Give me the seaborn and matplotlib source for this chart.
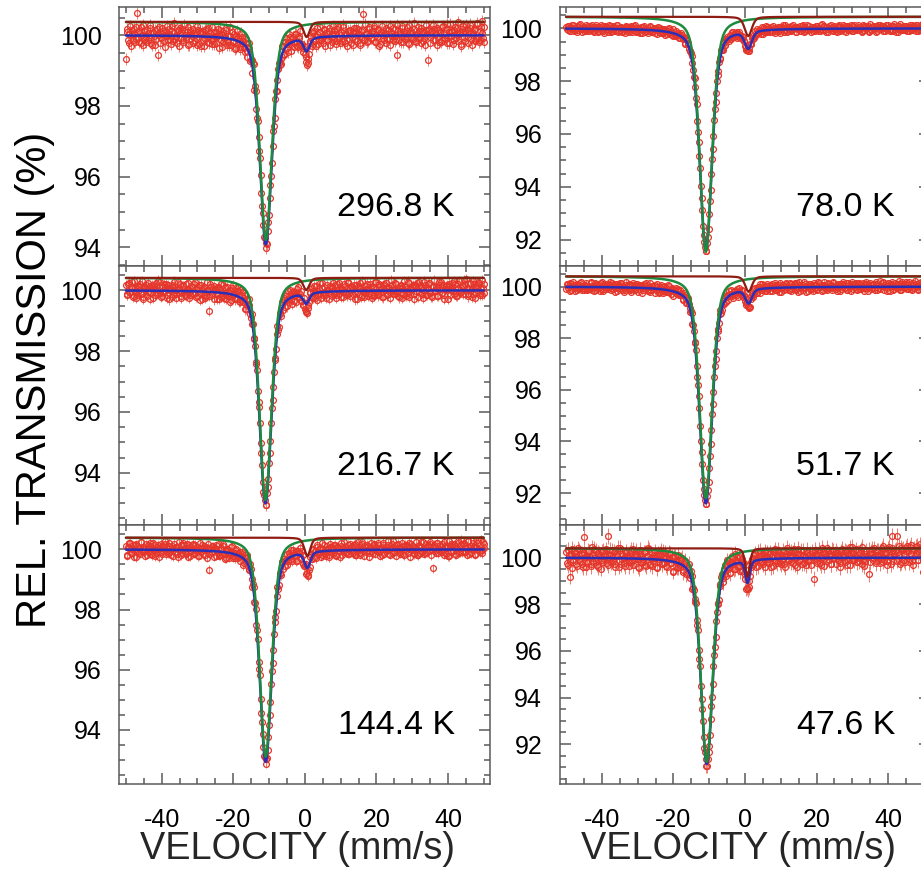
import numpy as np
import matplotlib
matplotlib.use("Agg")
import matplotlib.pyplot as plt
from matplotlib.ticker import MultipleLocator, FormatStrFormatter
import seaborn as sns

# ---------------------------------------------------------------------------
# Panels, row by row: (296.8 K | 78.0 K), (216.7 K | 51.7 K), (144.4 K | 47.6 K)
temperatures = ["296.8 K", "78.0 K", "216.7 K", "51.7 K", "144.4 K", "47.6 K"]

# Fitted sub-spectra (pseudo-Voigt lines): main line and weak second line
line1_center = [-10.90, -10.95, -11.00, -10.95, -10.95, -10.70]   # mm/s
line2_center = [0.50, 0.90, 0.40, 1.00, 0.70, 0.70]               # mm/s
line1_hwhm = [2.00, 2.05, 2.00, 2.05, 2.00, 2.00]
line2_hwhm = [1.00, 1.20, 1.00, 1.10, 1.00, 0.75]
total_depth1 = [5.92, 8.40, 7.00, 8.40, 7.06, 8.85]               # % in total fit
total_depth2 = [0.38, 0.67, 0.35, 0.55, 0.53, 0.97]
comp_base = [100.38, 100.44, 100.41, 100.40, 100.39, 100.40]      # shifted sub-spectra
comp_depth1 = [6.17, 8.90, 7.31, 8.60, 7.28, 9.16]
comp_depth2 = [0.43, 0.73, 0.40, 0.60, 0.61, 1.22]
point_error = [0.17, 0.08, 0.17, 0.10, 0.15, 0.33]                # % error bars
y_limits = [(93.47, 100.80), (91.00, 100.81), (92.28, 100.80),
            (90.76, 100.80), (92.20, 100.81), (90.29, 101.40)]

# Measured points, two velocity sweeps per spectrum: deviation from the
# total fit, integers in units of resid_unit (%)
resid_unit = [0.014, 0.014, 0.014, 0.014, 0.014, 0.010]
resid_2968_up = [
    -48, 8, -15, 20, 3, -10, 14, -6, 46, -12, 5, 17, -20, 9, -3, 11,
    -8, 22, -14, 6, 0, -18, 13, -40, 7, -5, 16, -11, 2, 19, -9, 4,
    -16, 10, 25, -7, -2, 12, -21, 8, 15, -13, 3, -6, 18, -17, 9, 1,
    14, -10, -4, 21, -15, 6, 11, -8, -19, 16, 2, -12, 7, 20, -5, -14,
    10, 3, -22, 15, 8, -9, -1, 17, -13, 5, 24, -11, -6, 12, -18, 4,
    9, -15, 19, 0, -7, 13, -20, 6, 11, -4, -16, 22, 3, -10, 8, -2,
    4, -5, 3, 6, -9, 5, -3, 6, -4, 8, -10, 7, 0, 12, -9, -3,
    10, -14, 18, -6, 4, 13, -17, 9, -2, 15, -11, 6, 20, -8, -15, 3,
    -12, -28, -20, 5, 11, -7, 16, -3, 8, -13, 21, -5, 2, 14, -18, 9,
    -6, 17, 0, -11, 12, 5, -16, 19, -4, 8, -9, 23, -14, 3, 10, -7,
    13, -2, -19, 7, 16, -10, 4, -15, 11, 45, -8, 6, -12, 18, 1, -5,
    9, 20, -13, -3, 14, -17, 8, 2, -9, 16, -6, 11, -20, 5, 15, -1,
    -11, -40, 12, 7, -14, 19, 3, -8, 10, -16, 22, -4, 6, 13, -12, 0,
    17, -7, -15, 9, 4, -19, 11, -50, 14, -3, 8, 21, -10, 2, 16, -13,
    5, -9, 19, -6, 12, -15, 7, 24, -2, -18, 10, 3, 15, -11, 6, -21,
    18, -4, 8, 13, -16, 22, -7, 1, 11, -12, 25, -5, -9, 17, 4, -14,
]
resid_2968_down = [
    14, -9, 3, -21, 11, 6, -13, 18, -4, 9, -16, 2, 21, -7, -12, 5,
    -3, 15, -19, 8, 12, -6, 1, 17, -14, 4, 10, -22, 7, -1, 13, -8,
    19, -11, 6, 0, -15, 11, 16, -5, -9, 22, -3, 8, -18, 12, 4, -13,
    7, 2, -17, 13, 9, -20, 5, -2, 14, -10, 18, 1, -7, -15, 10, 3,
    -12, 16, 6, -4, -19, 12, 2, 20, -8, -13, 7, 15, -3, 9, -16, 21,
    0, -9, 13, 5, -14, 8, -5, 17, -11, 3, 14, -18, 10, -6, 2, 11,
    -5, 6, -4, 3, -7, 5, 6, -4, 3, -6, 8, -9, 10, 4, -12, 15,
    -8, 12, 3, -16, 19, -2, 7, -11, 14, 0, -13, 9, -6, -2, -4, -10,
    -22, -25, -14, 6, -9, 13, 4, -17, 20, -5, 11, -1, -12, 16, 8, -7,
    12, -18, 5, 21, -3, -10, 15, 7, -14, 2, 18, -9, 4, -20, 11, 6,
    -15, 8, 17, -6, 1, 13, -19, 10, -2, -8, 24, 3, -11, 14, -5, 9,
    16, -12, 2, 11, -21, 7, 19, -4, 6, -15, 12, -7, 20, 0, -9, 13,
    -6, 22, -10, 4, 15, -13, 8, -1, 18, -17, 5, 10, -8, 26, -14, 3,
    9, -3, 16, -12, -5, 21, 1, 12, -16, 7, -9, 14, 3, -19, 10, 6,
    -13, 18, 4, -8, 23, -2, -15, 11, 6, -10, 17, -5, 28, 2, -18, 12,
    7, -11, 20, -3, 9, 15, -20, 4, 13, -7, 22, -14, 8, 30, -6, 16,
]
resid_780_up = [
    5, -3, 8, -6, 2, 10, -4, 1, -8, 6, 12, -2, 3, -7, 9, 0,
    -5, 7, -1, 4, -9, 11, 2, -6, 6, -3, 8, -10, 3, 5, -2, 9,
    -7, 1, 6, -4, 10, -8, 3, 7, -5, 2, -11, 6, 4, -1, 8, -6,
    3, 12, -3, -7, 5, 1, -9, 8, 2, -4, 6, -2, 10, -6, -1, 4,
    7, -8, 2, 9, -3, -5, 6, 1, -7, 11, -4, 3, -9, 5, 8, -2,
    1, -6, 9, -1, 4, -10, 7, 3, -5, 6, 0, -8, 5, 10, -3, 2,
    -3, 4, -2, 3, -5, 2, 4, -3, 5, -4, 6, -2, 3, 7, -5, 1,
    8, -4, 6, 2, -7, 5, -1, 9, -3, 4, 7, -6, 2, -8, 5, 3,
    -4, -6, 3, 6, -2, 8, -5, 1, 10, -3, 4, -7, 6, 0, -4, 9,
    2, -6, 7, -1, 5, -9, 3, 8, -4, 1, 6, -7, 11, -2, 4, -5,
    9, -3, 0, 6, -8, 4, 2, -5, 7, 10, -6, 1, -3, 8, -1, 5,
    -7, 3, 9, -4, 2, -6, 12, -2, 5, -9, 4, 7, -1, 3, -5, 8,
    0, -8, 6, 4, -3, 9, -6, 2, 7, -4, 1, 10, -7, 5, -2, 3,
    11, -5, 2, -9, 6, 3, -1, 8, -6, 4, -3, 7, 1, -8, 9, -2,
    4, 6, -7, 2, 10, -4, 5, -1, -6, 8, 3, -9, 6, 0, 12, -3,
    -5, 7, 2, -8, 4, 9, -3, 1, 6, -6, 10, -2, 3, 8, -4, 5,
]
resid_780_down = [
    -2, 7, -5, 3, 9, -7, 0, 6, -4, 10, -1, -8, 5, 2, -6, 8,
    4, -3, 9, -7, 1, 6, -9, 5, 11, -2, -5, 7, 0, -8, 10, 3,
    -6, 8, 2, -3, 12, -5, 7, -9, 4, 1, 9, -4, -7, 6, 3, -1,
    10, -6, 5, 2, -8, 7, -2, 11, -5, 3, -9, 8, 1, -4, 6, -7,
    2, 9, -4, -6, 7, 3, -10, 5, 8, -3, 1, -7, 12, -1, -5, 6,
    -8, 4, 6, -2, -9, 10, 3, -6, 2, 7, -4, 9, -1, -7, 5, 8,
    3, -4, 2, -3, 4, -5, 3, 2, -4, 5, -3, 6, -2, 4, 7, -6,
    5, -8, 9, -1, 3, -6, 11, -3, 6, -9, 2, 8, -5, 4, -2, -6,
    -9, -5, -7, 2, 7, -3, 10, -6, 1, 5, -2, 9, -8, 4, 12, -4,
    6, 1, -7, 10, -3, 4, -5, 8, -9, 3, 11, -2, 5, -6, 0, 7,
    -4, 10, 3, -8, 6, -1, 9, -5, 2, -7, 4, 12, -3, 1, -9, 6,
    3, -5, 8, 1, -6, 11, -4, 7, -2, 5, -8, 2, 9, -3, 6, -1,
    -7, 4, 10, -5, 3, -2, 8, -9, 6, 1, -4, 7, -6, 11, 2, -3,
    5, -1, -6, 9, -3, 7, 2, -8, 12, -5, 3, -2, 8, -7, 4, 10,
    -2, 8, 3, -6, 1, 9, -7, 6, -3, 11, -5, 2, -9, 7, -1, 4,
    8, -4, 6, 1, -7, 3, 10, -5, 2, 9, -6, 5, -3, 12, -8, 6,
]
resid_2167_up = [
    12, -9, 18, -3, 6, -15, 22, 0, -11, 8, 15, -6, -19, 10, 4, -13,
    19, -2, 7, -16, 11, 3, -8, 24, -5, -14, 9, 16, -1, -10, 13, -20,
    5, 14, -7, 2, -17, 20, 8, -12, -3, 11, -9, 17, 6, -15, 0, 10,
    -6, 21, -13, 4, 15, -4, -18, 9, 12, -10, 3, -45, 18, -7, 7, 14,
    -2, -16, 10, 6, -9, 19, -12, 1, 16, -5, 8, -14, 23, 2, -8, 11,
    13, -11, -4, 17, 5, -19, 9, -1, 12, -7, 20, -13, 3, 8, -6, 15,
    -3, 6, -5, 4, -10, 3, 5, -6, 7, -4, 9, -8, 14, -11, 2, 18,
    -9, 7, 12, -15, 3, 19, -6, 10, -12, 1, 16, -4, 6, -10, -14, 8,
    -18, -22, -9, 14, -2, 7, 17, -11, 4, -6, 21, -13, 9, 0, -8, 15,
    3, -17, 11, 8, -5, 16, -9, 2, 19, -14, 6, -1, 13, -7, 22, -4,
    -12, 10, 5, -20, 14, -3, 7, 18, -10, 1, -15, 12, 4, -6, 16, -9,
    8, -13, 20, -2, -7, 11, 3, -16, 15, 6, -11, 9, -4, 24, -8, 2,
    17, -5, -12, 7, 13, -18, 1, 10, -6, 21, -14, 4, 8, -9, 12, -1,
    -15, 19, 6, -8, 2, 14, -10, 5, 18, -3, -16, 11, 0, 9, -12, 20,
    4, -7, 13, -19, 10, 3, 16, -11, 7, -2, 22, -6, -13, 15, 1, -4,
    11, 25, -8, 6, -14, 18, 2, -9, 14, -17, 9, 20, -5, 3, -11, 16,
]
resid_2167_down = [
    -10, 16, -4, 9, 20, -13, 5, -18, 11, 2, -7, 23, -15, 6, 14, -2,
    8, -19, 13, 4, -10, 17, -6, 1, 21, -12, -3, 10, 15, -17, 7, 3,
    -14, 9, 22, -8, 2, -5, 16, -16, 12, 6, -11, -1, 19, -9, 13, -4,
    18, -3, -12, 10, -20, 15, 4, -7, -14, 23, 1, -9, 11, -2, -17, 8,
    5, 12, -15, 20, -1, -8, 14, -13, 7, 3, -18, 16, 0, -10, 19, -6,
    -11, 17, 6, -7, 13, -16, 2, 21, -5, -12, 9, 4, -19, 15, -3, 10,
    4, -6, 5, -4, 7, -5, -3, 4, -6, 5, -8, 10, -7, 12, -10, 6,
    14, -12, 4, 19, -9, 11, -16, 2, 8, -14, 20, -3, 13, -6, -11, -15,
    -20, -12, -6, 10, 17, -10, 3, 15, -18, 9, -2, 22, -8, 12, -15, 5,
    -4, 14, -11, 21, 1, -16, 18, -7, 9, 4, -13, 16, -1, -10, 20, 6,
    11, -8, 15, -3, -19, 12, 7, -14, 23, 0, -6, 17, -12, 5, 9, -17,
    -9, 20, 3, -11, 16, -4, -15, 13, 1, 19, -8, 6, -18, 14, 2, -5,
    15, -2, -16, 11, 6, -9, 22, -13, 4, 17, -7, 1, 13, -19, 10, 18,
    -3, 12, 8, -17, 21, 2, -10, 16, -6, -14, 9, 24, -2, 7, -12, 14,
    19, -6, -11, 4, 13, -20, 10, 1, 18, -8, 15, -13, 6, 22, -4, 11,
    -8, 16, 27, -9, 3, 14, -16, 21, 8, -5, 12, 18, -11, 25, 5, -7,
]
resid_517_up = [
    -6, 9, 2, -11, 7, 13, -4, 1, -9, 5, 10, -7, 3, -2, 12, -8,
    4, -5, 14, 0, -10, 6, 8, -3, -12, 11, 2, -6, 9, -1, 5, 15,
    -9, 3, 7, -14, 10, -2, 4, 12, -6, 1, -8, 16, -4, 6, -11, 8,
    2, -7, 11, 5, -3, 9, -13, 0, 7, 14, -5, 3, -10, 8, -1, 10,
    -4, 12, -8, 6, 1, -11, 9, 4, -6, 13, -2, -9, 7, 2, 11, -5,
    8, -1, 5, -12, 10, 3, -7, 15, -3, 6, -10, 1, 9, -6, 4, 12,
    -4, 5, -3, 4, -6, 3, 5, -2, 6, -5, 4, -7, 8, -3, 10, -6,
    3, 9, -8, 5, 13, -4, 1, -11, 7, 2, -6, 12, -2, 8, -9, 4,
    -10, 2, -12, -14, 7, -5, 11, 3, -8, 6, 14, -4, 1, 9, -7, 5,
    -3, 10, 6, -9, 2, 13, -6, 8, -1, -11, 7, 4, -5, 12, 0, -8,
    9, -4, 3, 11, -7, 1, 15, -10, 6, -2, 8, -13, 4, 10, -5, 2,
    -12, 7, 5, -6, 12, -1, 3, -9, 14, 0, -7, 9, -3, 6, 11, -4,
    6, -10, 1, 8, -5, 13, -2, 4, -8, 10, 3, -12, 7, -1, 9, -6,
    2, 11, -7, 5, -3, 9, 14, -11, 0, 6, -4, 8, -9, 12, -2, 4,
    -6, 3, 10, -1, 7, -13, 5, 2, 12, -8, 1, 6, -4, 15, -10, 7,
    4, -2, 9, -7, 13, 0, -5, 11, -3, 8, 2, -9, 6, 14, -1, 10,
]
resid_517_down = [
    7, -4, 11, -8, 3, 0, -12, 9, 5, -6, 13, -2, -9, 6, 2, -5,
    -1, 10, -7, 4, 12, -9, 2, 8, -4, 14, -11, 5, 0, -6, 9, 3,
    11, -5, -2, 8, -10, 6, 13, -3, 4, -12, 7, 1, 10, -8, -4, 12,
    -7, 4, 9, -13, 5, 2, -6, 11, -1, 8, -9, 15, -5, 3, 7, -11,
    6, 1, -10, 12, -4, 8, -2, -7, 14, -5, 3, 9, -12, 6, -1, 10,
    -3, 13, 4, -8, 7, -11, 5, 2, -6, 10, 1, -9, 12, -4, 8, -2,
    3, -5, 4, -3, 5, -4, 3, -2, -5, 4, -6, 7, -4, 9, -7, 5,
    -6, 11, 2, -9, 4, 13, -7, 6, -2, 10, -12, 3, 8, -5, -3, -8,
    -12, -8, -10, 4, 9, -3, 12, -6, 2, 7, -10, 13, -1, 5, -8, 11,
    4, -7, 12, 0, -5, 9, 3, -11, 14, -2, 6, -8, 10, 1, -6, 13,
    -9, 5, 8, -4, 11, -12, 6, 2, -7, 15, -3, 4, -10, 9, 3, -5,
    10, -2, -8, 13, 1, 5, -11, 7, 3, -6, 12, -4, 2, -9, 14, 0,
    -5, 9, 4, -12, 8, 2, -3, 11, -9, 6, -1, 13, -7, 4, 10, -8,
    8, -6, 1, 10, -11, 7, -4, 3, 12, -7, 5, -2, 9, -10, 6, 15,
    1, 12, -9, 6, -2, 11, -13, 8, 4, -5, 10, -3, 7, 0, -8, 12,
    -4, 7, 13, -6, 2, 9, -10, 5, 16, -2, -7, 11, 3, -5, 12, 6,
]
resid_1444_up = [
    9, -14, 3, 16, -7, 11, -2, -18, 8, 5, -10, 19, 1, -6, 13, -12,
    4, 17, -9, 0, 12, -15, 7, 2, -5, 14, -11, 6, 20, -3, -8, 10,
    -13, 5, 15, -4, 8, -17, 1, 11, -7, 18, -2, -10, 6, 13, -14, 3,
    16, -6, 9, -1, -12, 7, 14, -9, 2, 10, -16, -45, 5, -3, 12, 8,
    -11, 1, 18, -8, 4, 13, -5, -14, 9, 6, -2, 15, -10, 3, 11, -7,
    7, -12, 2, 14, -9, 5, 17, -4, -1, 10, -15, 8, 3, -6, 12, 0,
    -5, 4, -3, 6, -8, -3, 5, -4, 6, -5, 7, -9, 13, -6, 4, 16,
    -10, 8, 1, -13, 11, 6, -7, 15, -2, 9, -14, 4, 18, -5, 7, -11,
    3, -12, -22, -8, 10, 16, -9, 2, 12, -6, 5, -13, 19, 0, -8, 11,
    6, -15, 9, 4, -3, 14, -10, 7, -1, 17, -12, 2, 8, -5, 13, -9,
    1, 10, -7, 15, -13, 5, 3, -11, 18, -2, 9, -6, 12, -16, 4, 7,
    -8, 13, 0, -4, 11, -14, 6, 16, -9, 3, -1, 10, -12, 5, 20, -6,
    8, -3, 14, -10, 2, 7, -13, 11, 4, -7, 16, -2, 9, -11, 6, 1,
    -14, 12, 5, -6, 17, -9, 3, 10, -4, 13, 0, -45, 7, -8, 15, -2,
    10, -5, 2, 18, -11, 6, -16, 9, 14, -3, 7, -12, 4, 21, -7, 11,
    -4, 15, 8, -13, 19, 3, -9, 22, 6, -10, 16, 1, -6, 24, -2, 12,
]
resid_1444_down = [
    -12, 6, 15, -8, 2, -17, 10, 13, -4, -9, 18, -2, 7, -14, 4, 11,
    -6, 9, -13, 16, 3, -7, 12, -18, 5, 8, -3, 14, -10, 1, 17, -5,
    10, -15, 4, 7, -9, 19, -1, -12, 13, 2, -6, 15, -16, 8, -2, 12,
    -8, 13, 1, -14, 18, -4, 6, 10, -11, 3, 16, -7, -2, 11, -13, 5,
    14, -3, -10, 9, -6, 20, -15, 4, 7, -12, 2, 17, -5, -9, 13, 1,
    -4, 11, 8, -16, 5, -1, 12, -9, 15, -6, 3, -11, 10, 6, -14, 18,
    -6, 5, -4, 6, -5, 4, -3, 6, -7, 5, -4, 8, -6, 10, -9, 12,
    6, -10, 13, -5, 2, 16, -12, 8, 1, -15, 10, 5, -8, 14, -11, -4,
    -16, -18, -12, 9, -3, 12, 6, -14, 17, -1, 8, -9, 4, 15, -12, 3,
    -10, 16, 2, -7, 13, -13, 9, 5, -16, 11, -2, 19, -6, 3, -9, 14,
    7, -4, 12, -11, 1, 18, -8, 3, 14, -14, 6, -1, 10, -7, 17, -3,
    12, -9, 5, 15, -6, 2, -13, 11, 7, -4, 20, -10, 1, 13, -8, 4,
    -15, 10, 3, -5, 16, -11, 9, -2, 12, 6, -17, 14, 0, -7, 18, -12,
    5, -8, 17, 2, -10, 13, -6, 8, 19, -14, 4, 11, -3, 16, -9, 7,
    -2, 14, -12, 9, 3, -16, 20, -5, 8, 12, -11, 1, 15, -8, 23, -6,
    13, -7, 4, 19, -10, 9, 1, 16, -13, 6, 22, -4, 11, -9, 18, 3,
]
resid_476_up = [
    25, -30, 12, -80, 38, -8, 20, -25, 5, 33, -15, 18, -40, 90, 10, -22,
    28, 3, -35, 15, 40, -12, -28, 22, 8, -45, 30, -5, 17, -20, 95, 36,
    -18, 7, 26, -38, 14, 45, -10, -26, 19, 2, -33, 24, 11, -16, 37, -7,
    -29, 16, 34, -2, -41, 21, 9, -14, 28, -31, 13, 42, -24, 6, -9, 31,
    18, -36, 4, 25, -19, 38, -11, 15, -27, 10, 32, -6, -39, 22, 1, -21,
    35, -13, 20, -30, 8, 27, -17, 12, -8, 29, -23, 5, 16, -12, 24, -5,
    -9, 7, -6, 10, -8, 6, -4, 9, -7, 12, -10, 15, 22, -18, 9, 26,
    -14, 31, -25, 3, 17, -32, 40, 6, -20, 14, 27, -11, -35, 21, 8, -16,
    30, -22, -30, -15, 19, -4, 26, -29, 11, 37, -8, 16, -21, 4, 33, -12,
    2, 23, -34, 13, 28, -6, -19, 39, 7, -25, 15, 9, -37, 20, -3, 32,
    -15, 11, 26, -28, 5, 41, -10, 17, -23, 34, -1, -31, 22, 14, -7, 29,
    6, -88, 18, -12, 36, -20, 3, 25, -33, 10, 44, -9, 15, -26, 30, 1,
    -24, 19, 8, -39, 27, 12, -14, 33, -5, 21, -30, 16, 46, -11, 7, -19,
    24, -2, 35, -27, 10, -13, 29, 4, -70, 18, 38, -8, 13, -22, 31, 9,
    -6, 40, -17, 26, 15, -32, 48, 2, 95, -14, 20, 35, 95, 11, -25, 43,
    37, -10, 28, 50, -18, 45, 14, -30, 39, 22, 52, -8, 33, 41, -60, 27,
]
resid_476_down = [
    -20, 35, -12, 18, -45, 27, 8, -33, 41, -6, 15, -28, 22, 3, -38, 30,
    10, -24, 46, -15, 2, 31, -40, 19, -9, 26, -18, 7, 38, -30, 13, -3,
    33, -11, -27, 20, 9, -36, 44, -2, 16, -21, 29, 5, -32, 24, -14, 39,
    -8, 21, 12, -34, 37, -16, 1, 28, -25, 14, 48, -19, 6, -29, 17, 4,
    -31, 26, -5, 40, -13, 11, 32, -22, 3, 36, -9, 19, -42, 25, 7, -17,
    14, -4, 30, -20, 23, -27, 9, 34, -12, 18, -6, -24, 28, 2, -15, 21,
    -7, 9, -8, 6, -10, 8, -6, 11, -9, 7, -12, 14, -10, 18, 24, -20,
    20, -14, 36, -8, -27, 15, 3, -22, 42, 10, -17, 26, 5, -31, 19, -25,
    -35, -28, -20, 8, 24, -13, 32, 1, -26, 17, 38, -9, 21, -34, 12, 29,
    -19, 27, 6, -30, 41, -11, 15, 22, -16, -5, 33, -24, 9, 45, -8, 16,
    28, -18, 39, 2, -36, 20, -7, 31, 13, -22, 4, 37, -13, 18, -29, 24,
    -10, 34, -21, 11, 25, -32, 43, -4, 16, -15, 29, 7, -26, 35, -2, 19,
    31, -7, 14, -23, 39, 5, -18, 27, -30, 12, 45, -11, 20, -3, 36, -16,
    -13, 22, 47, -9, -36, 17, 8, 33, -20, 26, 1, 40, -15, 30, 11, -24,
    26, 52, -8, 19, -14, 37, 10, -27, 44, 6, 31, -12, 23, 49, -19, 35,
    15, -20, 42, 28, -5, 54, -16, 33, 8, 46, -11, 25, 57, 14, -9, 38,
]
residuals_up = [resid_2968_up, resid_780_up, resid_2167_up,
                resid_517_up, resid_1444_up, resid_476_up]
residuals_down = [resid_2968_down, resid_780_down, resid_2167_down,
                  resid_517_down, resid_1444_down, resid_476_down]

velocity_range = (-50.0, 50.0)   # equally spaced channels of one sweep
down_sweep_shift = 0.2           # mm/s, channels of the return sweep

# ---------------------------------------------------------------------------
POINT_RED = "#e4362a"
BAR_RED = "#ee7d72"
BLUE = "#2a2fb8"
GREEN = "#1e8a3e"
DARK_RED = "#8e1c12"
FRAME = "#5a5a5a"


def pseudo_voigt(v, center, hwhm, eta=0.45):
    x = (v - center) / hwhm
    return eta / (1.0 + x ** 2) + (1.0 - eta) * np.exp(-np.log(2.0) * x ** 2)


sns.set_theme(style="ticks")
plt.rcParams["font.family"] = ["Liberation Sans", "DejaVu Sans"]
plt.rcParams["axes.unicode_minus"] = False

fig = plt.figure(figsize=(9.21, 8.73), dpi=100)
W, H = 921.0, 873.0
col_left = [119.3 / W, 559.5 / W]
row_bottom = [1 - 266 / H, 1 - 525 / H, 1 - 784 / H]
ax_w, ax_h = 370.7 / W, 259 / H

v_fit = np.linspace(velocity_range[0], velocity_range[1], 2001)

for k in range(6):
    r, c = divmod(k, 2)
    ax = fig.add_axes([col_left[c], row_bottom[r], ax_w, ax_h])

    p1 = lambda v: pseudo_voigt(v, line1_center[k], line1_hwhm[k])
    p2 = lambda v: pseudo_voigt(v, line2_center[k], line2_hwhm[k])
    total = lambda v: 100.0 - total_depth1[k] * p1(v) - total_depth2[k] * p2(v)

    v_pts, t_pts = [], []
    for resid, shift in ((residuals_up[k], 0.0),
                         (residuals_down[k], down_sweep_shift)):
        res = np.asarray(resid, dtype=float) * resid_unit[k]
        v = np.linspace(velocity_range[0], velocity_range[1], len(res)) + shift
        v_pts.append(v)
        t_pts.append(total(v) + res)
    v_pts = np.concatenate(v_pts)
    t_pts = np.concatenate(t_pts)

    ax.errorbar(v_pts, t_pts, yerr=point_error[k], fmt="none",
                ecolor=BAR_RED, elinewidth=0.7, capsize=0, zorder=1)
    ax.plot(v_pts, t_pts, "o", ms=4.2, mfc="none", mec=POINT_RED, mew=0.9,
            zorder=2)

    sns.lineplot(x=v_fit, y=total(v_fit), ax=ax, color=BLUE, lw=1.8,
                 zorder=3)
    sns.lineplot(x=v_fit, y=comp_base[k] - comp_depth1[k] * p1(v_fit), ax=ax,
                 color=GREEN, lw=1.8, zorder=4)
    sns.lineplot(x=v_fit, y=comp_base[k] - comp_depth2[k] * p2(v_fit), ax=ax,
                 color=DARK_RED, lw=1.6, zorder=5)

    ax.set_xlim(-51.85, 51.75)
    ax.set_ylim(*y_limits[k])
    ax.xaxis.set_major_locator(MultipleLocator(20))
    ax.xaxis.set_minor_locator(MultipleLocator(5))
    ax.yaxis.set_major_locator(MultipleLocator(2))
    ax.yaxis.set_minor_locator(MultipleLocator(0.5))
    ax.yaxis.set_major_formatter(FormatStrFormatter("%d"))

    ax.tick_params(which="both", direction="in", top=True, right=True,
                   color=FRAME, width=1.1, labelsize=18, labelcolor="black")
    ax.tick_params(which="major", length=8)
    ax.tick_params(which="minor", length=4.3)
    ax.tick_params(axis="y", pad=12.5)
    ax.tick_params(axis="x", pad=17)
    if r < 2:
        ax.tick_params(axis="x", labelbottom=False)
    else:
        ax.set_xlabel("VELOCITY (mm/s)", fontsize=27.3, va="center")
        ax.xaxis.set_label_coords(0.482, -(849 - 784) / 259.0)
    ax.set_ylabel("")
    for s in ax.spines.values():
        s.set_color(FRAME)
        s.set_linewidth(1.1)

    ax.text(0.905, 0.225, temperatures[k], transform=ax.transAxes,
            ha="right", va="center", fontsize=24.5, color="black")

fig.text(35 / W, 1 - 380 / H, "REL. TRANSMISSION (%)", rotation=90,
         ha="center", va="center", fontsize=30, color="black")

fig.savefig("out.png", dpi=100)
